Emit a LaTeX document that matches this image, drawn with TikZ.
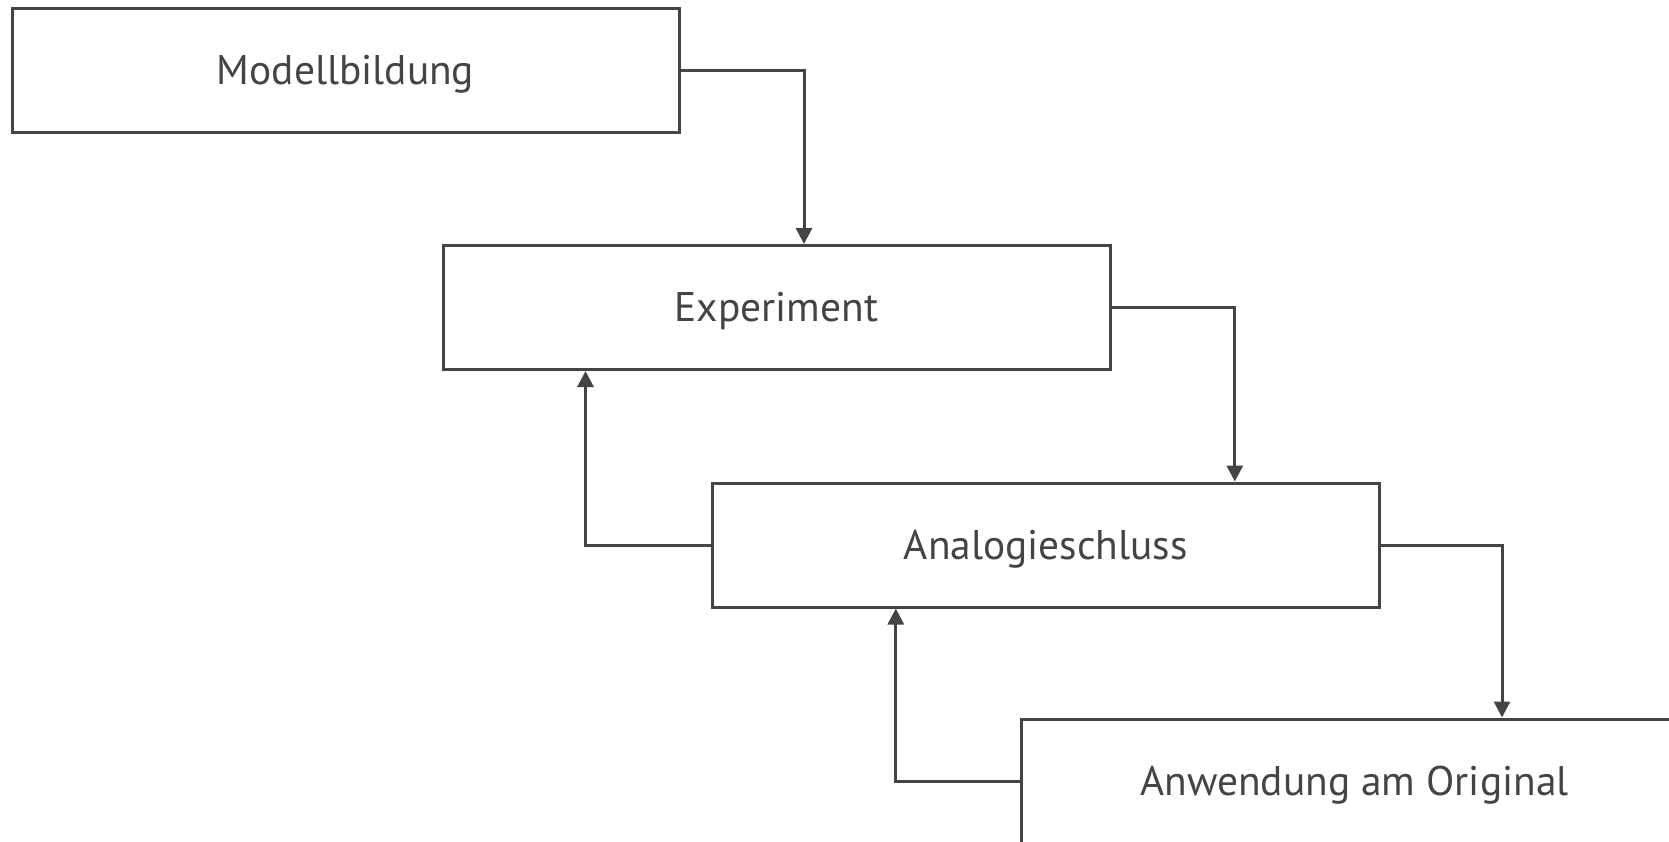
\documentclass[tikz,border=0pt]{standalone}
\usepackage{fontspec}
\setmainfont{PT Sans}
\usetikzlibrary{arrows.meta,calc}
\definecolor{ink}{HTML}{444444}
\begin{document}
\begin{tikzpicture}[x=0.5pt,y=-0.5pt,
  stage/.style={draw=ink,line width=1.5pt,fill=white,rectangle,
    minimum width=333.5pt,minimum height=62pt,inner sep=0pt,
    text height=15pt,text depth=1pt,
    text=ink,font=\fontsize{20.7}{24}\selectfont},
  conn/.style={draw=ink,line width=1.5pt,
    -{Triangle[length=8pt,width=8pt]}}]
  \useasboundingbox (0,0) rectangle (1669,841);
  \clip (0,0) rectangle (1669,841);
  % process stages
  \node[stage] (m) at (345.5,70.8)  {Modellbildung};
  \node[stage] (e) at (776.5,307.5) {Experiment};
  \node[stage] (a) at (1045.8,545)  {Analogieschluss};
  \node[stage] (o) at (1354.5,781)  {Anwendung am Original};
  % forward steps
  \coordinate (k1) at ($(e.north)+(27.5,0)$);
  \coordinate (k2) at ($(a.north)+(189,0)$);
  \coordinate (k3) at ($(o.north)+(147.5,0)$);
  \draw[conn] (m.east) -| (k1);
  \draw[conn] (e.east) -| (k2);
  \draw[conn] (a.east) -| (k3);
  % feedback steps
  \coordinate (b1) at ($(e.south west)+(144,0)$);
  \coordinate (b2) at ($(a.south west)+(185,0)$);
  \draw[conn] (a.west) -| (b1);
  \draw[conn] (o.west) -| (b2);
\end{tikzpicture}
\end{document}
